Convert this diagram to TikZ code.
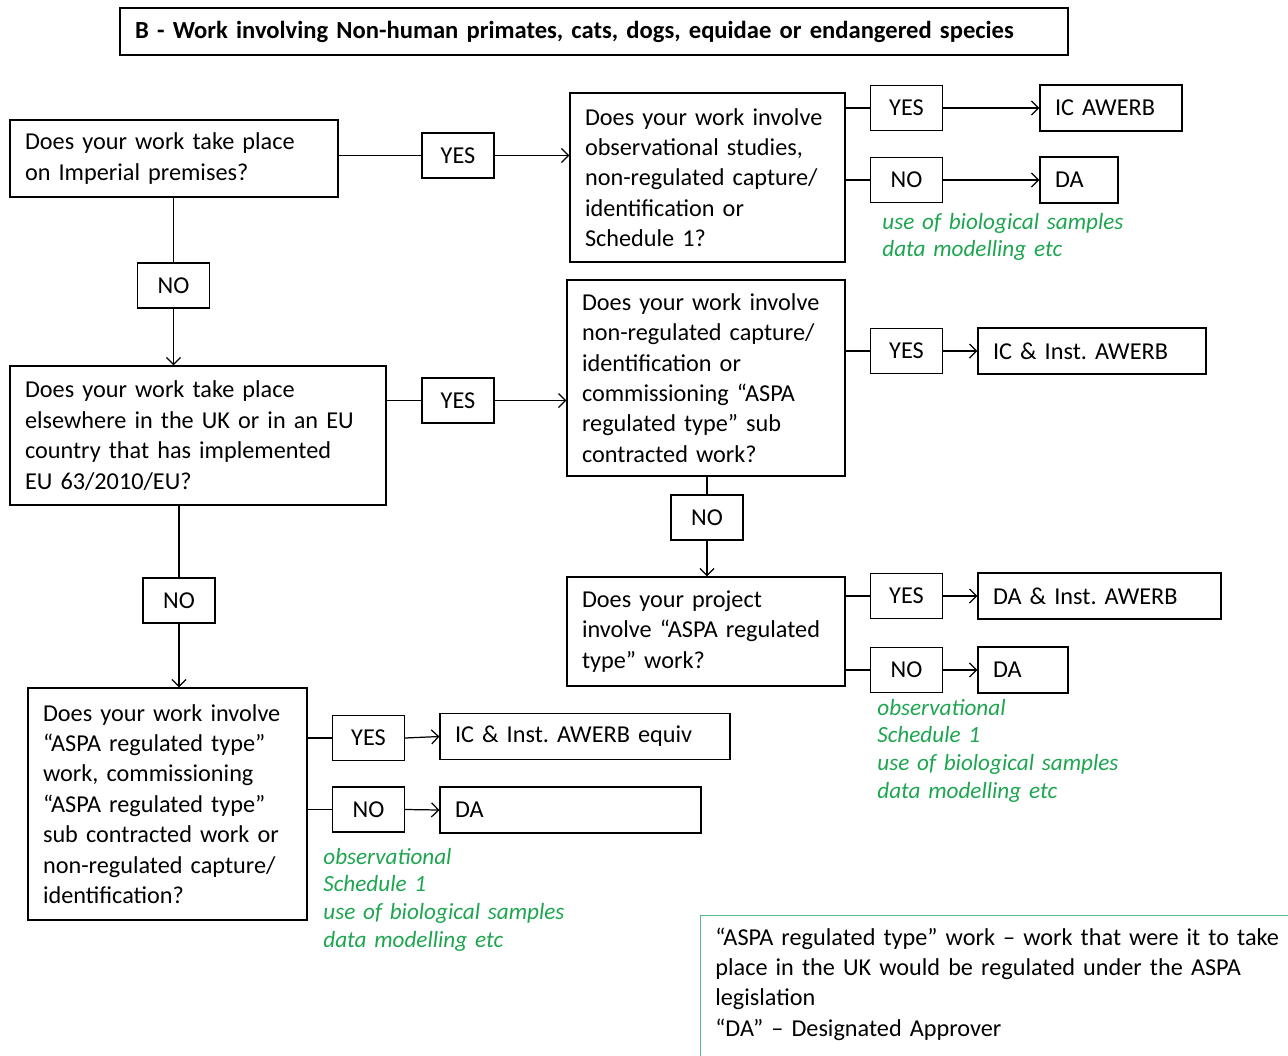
\documentclass[tikz,border=0pt]{standalone}
\usepackage{fontspec}
\setmainfont{Carlito}
\usetikzlibrary{arrows.meta}

\definecolor{notegreen}{RGB}{30,165,80}
\definecolor{keygreen}{RGB}{85,190,140}

\tikzset{
  qbox/.style={draw, line width=0.7pt, align=left, inner xsep=0.3cm, inner ysep=0pt},
  ansbox/.style={draw, line width=0.7pt, minimum width=1.44cm, minimum height=0.9cm, inner sep=0pt},
  resbox/.style={draw, line width=0.7pt, align=left, inner xsep=0.3cm, minimum height=0.92cm},
  note/.style={text=notegreen, anchor=base west, align=left, inner sep=0pt, text width=6cm,
    font=\fontsize{13.2}{15.9}\selectfont\itshape},
  conn/.style={line width=0.7pt},
  flow/.style={line width=0.7pt, -{Straight Barb[length=4pt,width=8pt]}},
}

\begin{document}
\frenchspacing
\begin{tikzpicture}[x=0.02cm, y=-0.02cm, font=\fontsize{13.8}{17.3}\selectfont]
            \clip (0,0) rectangle (1288,1055);

            % heading
            \node[draw, line width=0.7pt, minimum width=18.96cm, minimum height=0.94cm, text width=18.36cm,
              align=left, font=\fontsize{14}{17.3}\selectfont\bfseries] (title) at (594,31.5)
              {B - Work involving Non-human primates, cats, dogs, equidae or endangered species};

            % questions
            \node[qbox, minimum width=6.56cm, minimum height=1.54cm, text width=5.96cm] (q1) at (174,158.5)
              {Does your work take place\\on Imperial premises?};
            \node[qbox, minimum width=5.5cm, minimum height=3.38cm, text width=4.9cm] (q2) at (707.5,177.5)
              {Does your work involve\\observational studies,\\non-regulated capture/\\identification or\\Schedule 1?};
            \node[qbox, minimum width=7.52cm, minimum height=2.78cm, text width=6.92cm] (q3) at (198,435.5)
              {Does your work take place\\elsewhere in the UK or in an EU\\country that has implemented\\EU 63/2010/EU?};
            \node[qbox, minimum width=5.56cm, minimum height=3.92cm, text width=4.96cm] (q4) at (706,378)
              {Does your work involve\\non-regulated capture/\\identification or\\commissioning “ASPA\\regulated type” sub\\contracted work?};
            \node[qbox, minimum width=5.56cm, minimum height=2.18cm, text width=4.96cm] (q5) at (706,631.5)
              {Does your project\\involve “ASPA regulated\\type” work?};
            \node[qbox, minimum width=5.58cm, minimum height=4.64cm, text width=4.98cm] (q6) at (167.5,804)
              {Does your work involve\\“ASPA regulated type”\\work, commissioning\\“ASPA regulated type”\\sub contracted work or\\non-regulated capture/\\identification?};

            % yes / no
            \node[ansbox] (yes1) at (458,155.5) {YES};
            \node[ansbox] (yes2) at (906.5,108) {YES};
            \node[ansbox] (no2) at (906.5,180) {NO};
            \node[ansbox] (no1) at (173.5,285.5) {NO};
            \node[ansbox] (yes3) at (458,400.5) {YES};
            \node[ansbox] (yes4) at (906.5,351) {YES};
            \node[ansbox] (no4) at (707,517.5) {NO};
            \node[ansbox] (yes5) at (906.5,596) {YES};
            \node[ansbox] (no5) at (906.5,670) {NO};
            \node[ansbox] (no3) at (179,600.5) {NO};
            \node[ansbox] (yes6) at (368.5,738) {YES};
            \node[ansbox] (no6) at (368.5,809.5) {NO};

            % outcomes
            \node[resbox, minimum width=2.84cm, text width=2.24cm] (icawerb) at (1111,108) {IC AWERB};
            \node[resbox, minimum width=1.56cm, text width=0.96cm] (da1) at (1079,180) {DA};
            \node[resbox, minimum width=4.56cm, text width=3.96cm] (icinst) at (1092,351) {IC \& Inst. AWERB};
            \node[resbox, minimum width=4.86cm, text width=4.26cm] (dainst) at (1099.5,596) {DA \& Inst. AWERB};
            \node[resbox, minimum width=1.8cm, text width=1.2cm] (da2) at (1023,670) {DA};
            \node[resbox, minimum width=5.8cm, text width=5.2cm] (icequiv) at (585,736.5) {IC \& Inst. AWERB equiv};
            \node[resbox, minimum width=5.22cm, text width=4.62cm] (da3) at (570.5,810) {DA};

            % green notes
            \node[note] (note1) at (882,229) {use of biological samples\\data modelling etc};
            \node[note] (note2) at (877,715) {observational\\Schedule 1\\use of biological samples\\data modelling etc};
            \node[note] (note3) at (323,864) {observational\\Schedule 1\\use of biological samples\\data modelling etc};

            % key
            \node[draw=keygreen, line width=0.8pt, minimum width=12.4cm, minimum height=3.4cm, anchor=north west,
              inner sep=0pt] (keybox) at (700,915) {};
            \node[anchor=base west, align=left, inner sep=0pt, text width=12cm] (keytext) at (715,945)
              {“ASPA regulated type” work -- work that were it to take\\place in the UK would be regulated under the ASPA\\legislation\\“DA” -- Designated Approver};

            % connectors
            \draw[conn] (q1.east |- yes1.west) -- (yes1.west);
            \draw[flow] (yes1.east) -- (yes1.east -| q2.west);
            \draw[conn] (q2.east |- yes2.west) -- (yes2.west);
            \draw[flow] (yes2.east) -- (icawerb.west);
            \draw[conn] (q2.east |- no2.west) -- (no2.west);
            \draw[flow] (no2.east) -- (da1.west);
            \draw[conn] (no1.north |- q1.south) -- (no1.north);
            \draw[flow] (no1.south) -- (no1.south |- q3.north);
            \draw[conn] (q3.east |- yes3.west) -- (yes3.west);
            \draw[flow] (yes3.east) -- (yes3.east -| q4.west);
            \draw[conn] (q4.east |- yes4.west) -- (yes4.west);
            \draw[flow] (yes4.east) -- (icinst.west);
            \draw[conn] (no4.north |- q4.south) -- (no4.north);
            \draw[flow] (no4.south) -- (no4.south |- q5.north);
            \draw[conn] (q5.east |- yes5.west) -- (yes5.west);
            \draw[flow] (yes5.east) -- (dainst.west);
            \draw[conn] (q5.east |- no5.west) -- (no5.west);
            \draw[flow] (no5.east) -- (da2.west);
            \draw[conn] (no3.north |- q3.south) -- (no3.north);
            \draw[flow] (no3.south) -- (no3.south |- q6.north);
            \draw[conn] (q6.east |- yes6.west) -- (yes6.west);
            \draw[flow] (yes6.east) -- (icequiv.west);
            \draw[conn] (q6.east |- no6.west) -- (no6.west);
            \draw[flow] (no6.east) -- (da3.west);
        \end{tikzpicture}
\end{document}
